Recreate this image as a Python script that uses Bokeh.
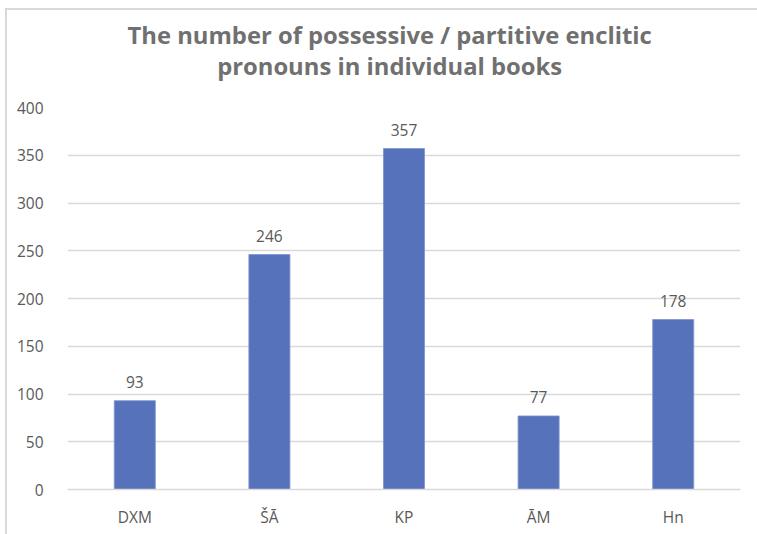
from bokeh.plotting import figure
from bokeh.models import ColumnDataSource, LabelSet, Range1d
from bokeh.layouts import column
from bokeh.core.properties import value
from bokeh.embed import file_html
from bokeh.resources import INLINE

books = ["DXM", "ŠĀ", "KP", "ĀM", "Hn"]
counts = [93, 246, 357, 77, 178]
y_ticks = [0, 50, 100, 150, 200, 250, 300, 350, 400]
title_lines = ["The number of possessive / partitive enclitic",
               "pronouns in individual books"]

FONT = "Open Sans"
src = ColumnDataSource(dict(book=books, count=counts, label=[str(c) for c in counts]))

# ---- title strip (a separate, axis-less figure so the two lines can be centred) ----
tp = figure(width=750, height=85, x_range=Range1d(0, 750), y_range=Range1d(0, 85),
            output_backend="svg", toolbar_location=None,
            x_axis_location=None, y_axis_location=None,
            min_border=0, min_border_left=0, min_border_right=0,
            min_border_top=0, min_border_bottom=0)
tp.grid.visible = False
tp.outline_line_color = None
tp.title = None
tp.text(x=[359, 359], y=[61, 30], text=title_lines, text_align="center",
        text_baseline="middle", text_font=value(FONT), text_font_size="23.8px",
        text_font_style="bold", text_color="#707070")

# ---- main chart ----
p = figure(x_range=books, y_range=(0, 400), width=750, height=439,
           output_backend="svg", toolbar_location=None,
           min_border_left=60, min_border_right=17, min_border_bottom=45, min_border_top=12)
p.title = None

p.vbar(x="book", top="count", width=0.305, source=src, fill_color="#5572BB",
       line_color="#7d94cc", line_width=0.8)

labels = LabelSet(x="book", y="count", text="label", source=src, text_align="center",
                  text_baseline="alphabetic", y_offset=12.5, text_font=value(FONT),
                  text_font_size="15.5px", text_color="#595959")
p.add_layout(labels)

p.outline_line_color = None
p.background_fill_color = "white"
p.border_fill_color = "white"
p.xgrid.grid_line_color = None
p.ygrid.grid_line_color = "#d9d9d9"
p.ygrid.grid_line_width = 1.5
p.yaxis.ticker = y_ticks
p.yaxis.axis_line_color = None
p.yaxis.major_tick_line_color = None
p.yaxis.minor_tick_line_color = None
p.yaxis.major_label_standoff = 18
p.xaxis.axis_line_color = "#d9d9d9"
p.xaxis.axis_line_width = 1.5
p.xaxis.major_tick_line_color = None
p.xaxis.major_label_standoff = 10
for ax in (p.xaxis, p.yaxis):
    ax.major_label_text_font = FONT
    ax.major_label_text_font_size = "15.5px"
    ax.major_label_text_color = "#595959"

layout = column(tp, p, spacing=0,
                styles={"margin-left": "5px", "margin-top": "8px",
                        "border-left": "2px solid #d9d9d9", "border-top": "2px solid #d9d9d9"})

open("out.html", "w").write(file_html(layout, INLINE))
